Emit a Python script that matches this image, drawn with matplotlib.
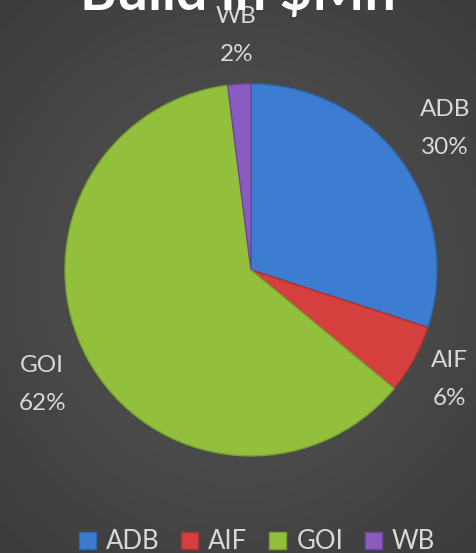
import numpy as np
import matplotlib
matplotlib.use("Agg")
import matplotlib.pyplot as plt
from matplotlib.patches import Patch

plt.rcParams['font.family'] = ['Lato', 'DejaVu Sans']

sources = ['ADB', 'AIF', 'GOI', 'WB']
shares = [30, 6, 62, 2]
colors = ['#3C7DD2', '#D5403F', '#92C03C', '#8A5CC0']
edges = ['#2E66AE', '#A83332', '#77A02E', '#6C479C']
label_dist = [1.29, 1.22, 1.28, 1.26]
title = 'Build in \\$Mn'

fig = plt.figure(figsize=(4.76, 5.53), dpi=100)

# radial gray background
bg = fig.add_axes([0, 0, 1, 1], zorder=-1)
yy, xx = np.mgrid[-1:1:300j, -1:1:260j]
rr = np.sqrt(xx**2 + (yy * 1.1)**2)
bg.imshow(0.34 - 0.07 * rr, cmap='gray', vmin=0, vmax=1, aspect='auto',
          extent=[0, 1, 0, 1])
bg.axis('off')

ax = fig.add_axes([0.1365, 0.1756, 0.7815, 0.6727])
wedges, _ = ax.pie(shares, colors=colors, startangle=90, counterclock=False,
                   radius=1, wedgeprops=dict(linewidth=1.0))
for w, ec in zip(wedges, edges):
    w.set_edgecolor(ec)

for w, name, d in zip(wedges, sources, label_dist):
    mid = np.deg2rad((w.theta1 + w.theta2) / 2)
    pct = w.theta2 - w.theta1
    ax.text(d * np.cos(mid), d * np.sin(mid),
            f'{name}\n{round(pct / 3.6)}%', ha='center', va='center',
            color='#D9D9D9', fontsize=17.5, linespacing=2.0, clip_on=False)
ax.set_xlim(-1, 1)
ax.set_ylim(-1, 1)
ax.set_aspect('equal')

fig.text(0.5, 1 - 10 / 553, title, ha='center', va='baseline',
         fontsize=40, fontweight='bold', color='white')

handles = [Patch(facecolor=c, edgecolor=e) for c, e in zip(colors, edges)]
leg = fig.legend(handles, sources, loc='center', bbox_to_anchor=(0.54, 0.02),
                 ncol=4, frameon=False, fontsize=18.5, handlelength=0.65,
                 handleheight=0.65, handletextpad=0.4, columnspacing=0.85,
                 labelcolor='#D9D9D9')

fig.savefig('out.png', dpi=100)
